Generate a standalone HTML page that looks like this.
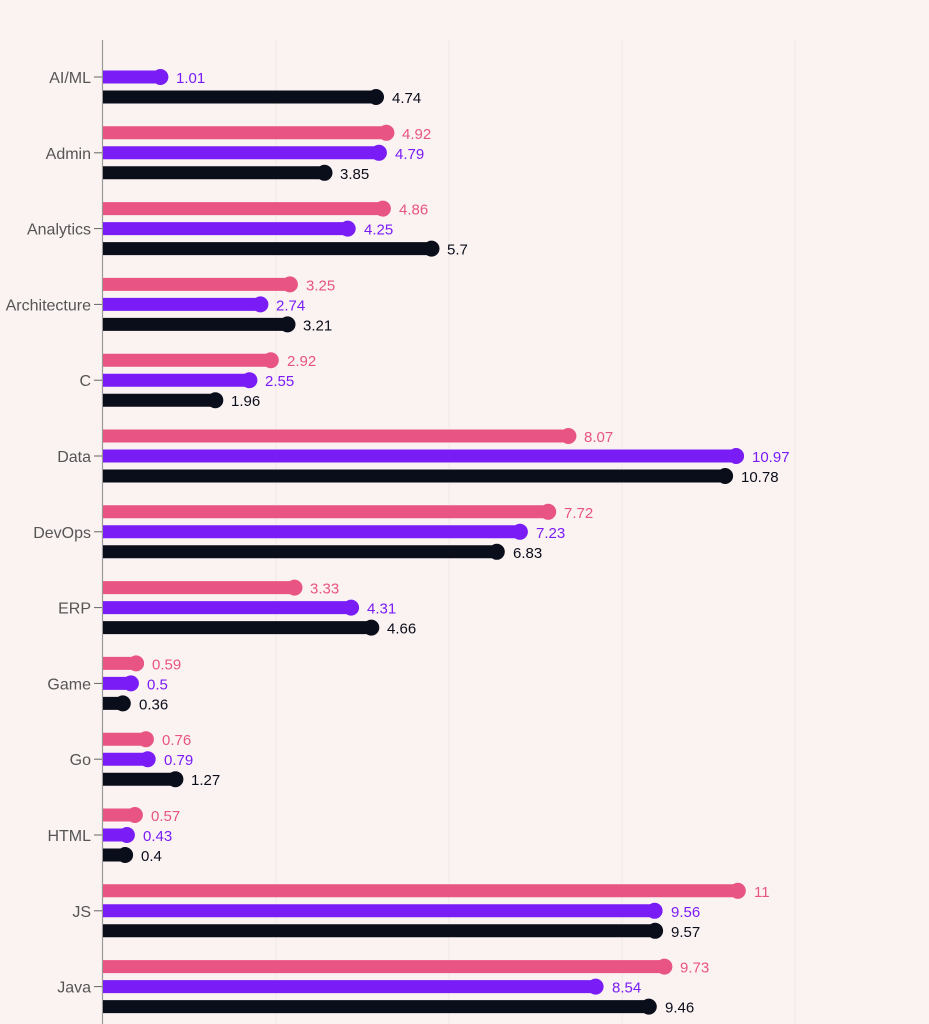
<!DOCTYPE html>
<html><head><meta charset="utf-8"><style>
html,body{margin:0;padding:0;background:#fbf3f2;}
svg{display:block;font-family:"Liberation Sans",sans-serif;font-size:15px;}
.p line{stroke:#e85483}.p circle{fill:#e85483}.p text{fill:#e85483}
.u line{stroke:#7a1cf5}.u circle{fill:#7a1cf5}.u text{fill:#7a1cf5}
.k line{stroke:#0a0d1a}.k circle{fill:#0a0d1a}.k text{fill:#0a0d1a}
line.b{stroke-width:13}
.c{fill:#555;text-anchor:end;font-size:16px}
g g text{transform:translateY(1px)}
</style></head><body>
<svg width="929" height="1024" viewBox="0 0 929 1024">
<rect width="929" height="1024" fill="#fbf3f2"/>
<g stroke="#f1e8e7" stroke-width="1">
<line x1="276" y1="40" x2="276" y2="1024"/><line x1="449" y1="40" x2="449" y2="1024"/><line x1="622" y1="40" x2="622" y2="1024"/><line x1="795" y1="40" x2="795" y2="1024"/>
</g>
<line x1="102.5" y1="40" x2="102.5" y2="1024" stroke="#999" stroke-width="1.2"/>

<g transform="translate(0,77)"><text class="c" x="91" y="6">AI/ML</text><line x1="94" x2="102" y1="0" y2="0" stroke="#666"/>
<g class="u"><line class="b" x1="103" x2="160.4" y1="0" y2="0"/><circle cx="160.4" cy="0" r="8"/><text x="176" y="5">1.01</text></g>
<g class="k"><line class="b" x1="103" x2="376" y1="20" y2="20"/><circle cx="376" cy="20" r="8"/><text x="392" y="25">4.74</text></g></g>

<g transform="translate(0,152.8)"><text class="c" x="91" y="6">Admin</text><line x1="94" x2="102" y1="0" y2="0" stroke="#666"/>
<g class="p"><line class="b" x1="103" x2="386.4" y1="-20" y2="-20"/><circle cx="386.4" cy="-20" r="8"/><text x="402" y="-15">4.92</text></g>
<g class="u"><line class="b" x1="103" x2="378.9" y1="0" y2="0"/><circle cx="378.9" cy="0" r="8"/><text x="395" y="5">4.79</text></g>
<g class="k"><line class="b" x1="103" x2="324.5" y1="20" y2="20"/><circle cx="324.5" cy="20" r="8"/><text x="340" y="25">3.85</text></g></g>

<g transform="translate(0,228.6)"><text class="c" x="91" y="6">Analytics</text><line x1="94" x2="102" y1="0" y2="0" stroke="#666"/>
<g class="p"><line class="b" x1="103" x2="382.9" y1="-20" y2="-20"/><circle cx="382.9" cy="-20" r="8"/><text x="399" y="-15">4.86</text></g>
<g class="u"><line class="b" x1="103" x2="347.7" y1="0" y2="0"/><circle cx="347.7" cy="0" r="8"/><text x="364" y="5">4.25</text></g>
<g class="k"><line class="b" x1="103" x2="431.5" y1="20" y2="20"/><circle cx="431.5" cy="20" r="8"/><text x="447" y="25">5.7</text></g></g>

<g transform="translate(0,304.4)"><text class="c" x="91" y="6">Architecture</text><line x1="94" x2="102" y1="0" y2="0" stroke="#666"/>
<g class="p"><line class="b" x1="103" x2="289.9" y1="-20" y2="-20"/><circle cx="289.9" cy="-20" r="8"/><text x="306" y="-15">3.25</text></g>
<g class="u"><line class="b" x1="103" x2="260.4" y1="0" y2="0"/><circle cx="260.4" cy="0" r="8"/><text x="276" y="5">2.74</text></g>
<g class="k"><line class="b" x1="103" x2="287.5" y1="20" y2="20"/><circle cx="287.5" cy="20" r="8"/><text x="303" y="25">3.21</text></g></g>

<g transform="translate(0,380.2)"><text class="c" x="91" y="6">C</text><line x1="94" x2="102" y1="0" y2="0" stroke="#666"/>
<g class="p"><line class="b" x1="103" x2="270.8" y1="-20" y2="-20"/><circle cx="270.8" cy="-20" r="8"/><text x="287" y="-15">2.92</text></g>
<g class="u"><line class="b" x1="103" x2="249.4" y1="0" y2="0"/><circle cx="249.4" cy="0" r="8"/><text x="265" y="5">2.55</text></g>
<g class="k"><line class="b" x1="103" x2="215.3" y1="20" y2="20"/><circle cx="215.3" cy="20" r="8"/><text x="231" y="25">1.96</text></g></g>

<g transform="translate(0,456)"><text class="c" x="91" y="6">Data</text><line x1="94" x2="102" y1="0" y2="0" stroke="#666"/>
<g class="p"><line class="b" x1="103" x2="568.4" y1="-20" y2="-20"/><circle cx="568.4" cy="-20" r="8"/><text x="584" y="-15">8.07</text></g>
<g class="u"><line class="b" x1="103" x2="736.1" y1="0" y2="0"/><circle cx="736.1" cy="0" r="8"/><text x="752" y="5">10.97</text></g>
<g class="k"><line class="b" x1="103" x2="725.1" y1="20" y2="20"/><circle cx="725.1" cy="20" r="8"/><text x="741" y="25">10.78</text></g></g>

<g transform="translate(0,531.8)"><text class="c" x="91" y="6">DevOps</text><line x1="94" x2="102" y1="0" y2="0" stroke="#666"/>
<g class="p"><line class="b" x1="103" x2="548.2" y1="-20" y2="-20"/><circle cx="548.2" cy="-20" r="8"/><text x="564" y="-15">7.72</text></g>
<g class="u"><line class="b" x1="103" x2="519.9" y1="0" y2="0"/><circle cx="519.9" cy="0" r="8"/><text x="536" y="5">7.23</text></g>
<g class="k"><line class="b" x1="103" x2="496.8" y1="20" y2="20"/><circle cx="496.8" cy="20" r="8"/><text x="513" y="25">6.83</text></g></g>

<g transform="translate(0,607.6)"><text class="c" x="91" y="6">ERP</text><line x1="94" x2="102" y1="0" y2="0" stroke="#666"/>
<g class="p"><line class="b" x1="103" x2="294.5" y1="-20" y2="-20"/><circle cx="294.5" cy="-20" r="8"/><text x="310" y="-15">3.33</text></g>
<g class="u"><line class="b" x1="103" x2="351.1" y1="0" y2="0"/><circle cx="351.1" cy="0" r="8"/><text x="367" y="5">4.31</text></g>
<g class="k"><line class="b" x1="103" x2="371.3" y1="20" y2="20"/><circle cx="371.3" cy="20" r="8"/><text x="387" y="25">4.66</text></g></g>

<g transform="translate(0,683.4)"><text class="c" x="91" y="6">Game</text><line x1="94" x2="102" y1="0" y2="0" stroke="#666"/>
<g class="p"><line class="b" x1="103" x2="136.1" y1="-20" y2="-20"/><circle cx="136.1" cy="-20" r="8"/><text x="152" y="-15">0.59</text></g>
<g class="u"><line class="b" x1="103" x2="130.9" y1="0" y2="0"/><circle cx="130.9" cy="0" r="8"/><text x="147" y="5">0.5</text></g>
<g class="k"><line class="b" x1="103" x2="122.8" y1="20" y2="20"/><circle cx="122.8" cy="20" r="8"/><text x="139" y="25">0.36</text></g></g>

<g transform="translate(0,759.2)"><text class="c" x="91" y="6">Go</text><line x1="94" x2="102" y1="0" y2="0" stroke="#666"/>
<g class="p"><line class="b" x1="103" x2="145.9" y1="-20" y2="-20"/><circle cx="145.9" cy="-20" r="8"/><text x="162" y="-15">0.76</text></g>
<g class="u"><line class="b" x1="103" x2="147.7" y1="0" y2="0"/><circle cx="147.7" cy="0" r="8"/><text x="164" y="5">0.79</text></g>
<g class="k"><line class="b" x1="103" x2="175.4" y1="20" y2="20"/><circle cx="175.4" cy="20" r="8"/><text x="191" y="25">1.27</text></g></g>

<g transform="translate(0,835)"><text class="c" x="91" y="6">HTML</text><line x1="94" x2="102" y1="0" y2="0" stroke="#666"/>
<g class="p"><line class="b" x1="103" x2="134.9" y1="-20" y2="-20"/><circle cx="134.9" cy="-20" r="8"/><text x="151" y="-15">0.57</text></g>
<g class="u"><line class="b" x1="103" x2="126.9" y1="0" y2="0"/><circle cx="126.9" cy="0" r="8"/><text x="143" y="5">0.43</text></g>
<g class="k"><line class="b" x1="103" x2="125.1" y1="20" y2="20"/><circle cx="125.1" cy="20" r="8"/><text x="141" y="25">0.4</text></g></g>

<g transform="translate(0,910.8)"><text class="c" x="91" y="6">JS</text><line x1="94" x2="102" y1="0" y2="0" stroke="#666"/>
<g class="p"><line class="b" x1="103" x2="737.8" y1="-20" y2="-20"/><circle cx="737.8" cy="-20" r="8"/><text x="754" y="-15">11</text></g>
<g class="u"><line class="b" x1="103" x2="654.6" y1="0" y2="0"/><circle cx="654.6" cy="0" r="8"/><text x="671" y="5">9.56</text></g>
<g class="k"><line class="b" x1="103" x2="655.1" y1="20" y2="20"/><circle cx="655.1" cy="20" r="8"/><text x="671" y="25">9.57</text></g></g>

<g transform="translate(0,986.6)"><text class="c" x="91" y="6">Java</text><line x1="94" x2="102" y1="0" y2="0" stroke="#666"/>
<g class="p"><line class="b" x1="103" x2="664.4" y1="-20" y2="-20"/><circle cx="664.4" cy="-20" r="8"/><text x="680" y="-15">9.73</text></g>
<g class="u"><line class="b" x1="103" x2="595.6" y1="0" y2="0"/><circle cx="595.6" cy="0" r="8"/><text x="612" y="5">8.54</text></g>
<g class="k"><line class="b" x1="103" x2="648.8" y1="20" y2="20"/><circle cx="648.8" cy="20" r="8"/><text x="665" y="25">9.46</text></g></g>
</svg>
</body></html>
